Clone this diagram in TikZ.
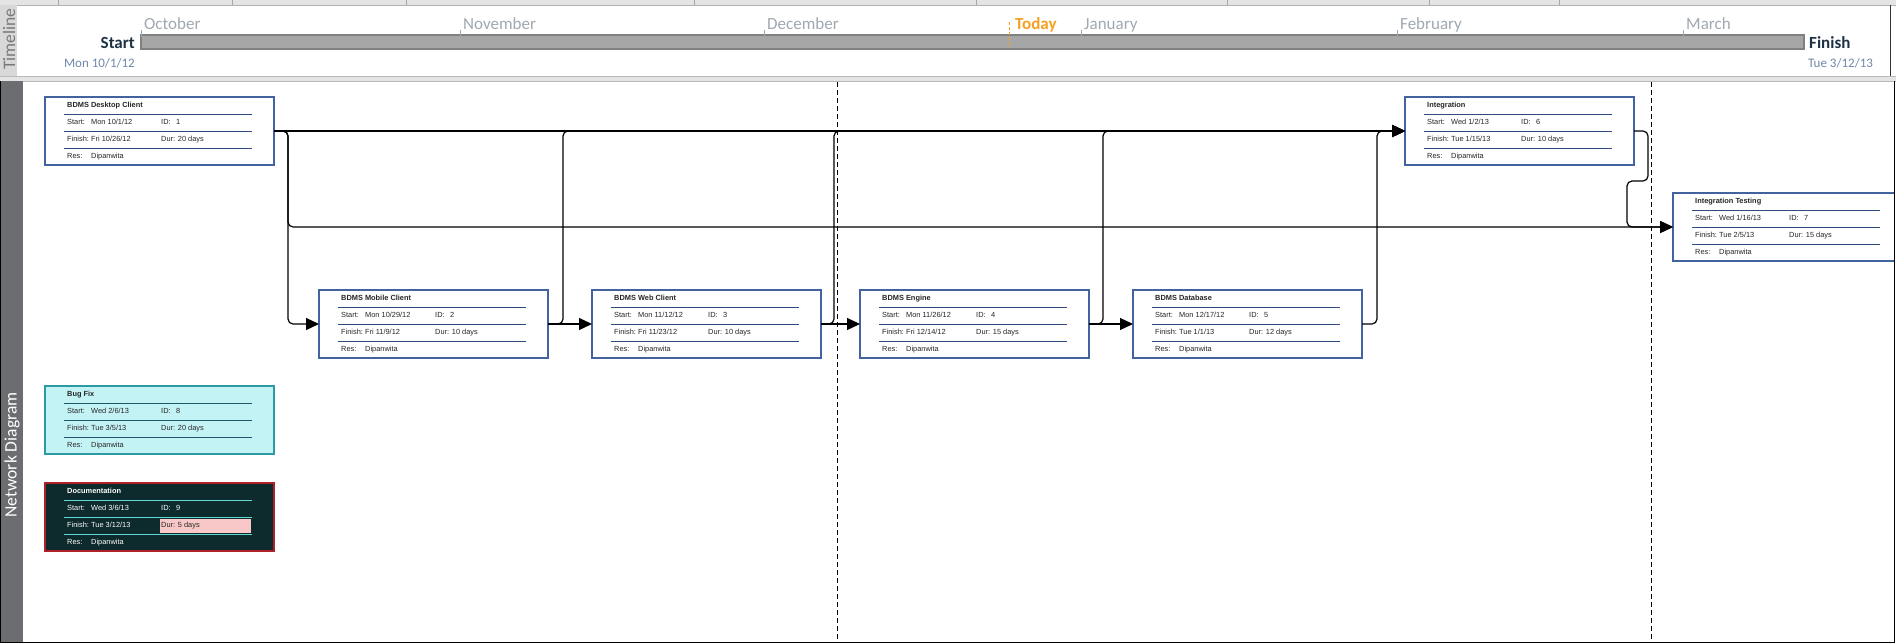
\documentclass[tikz,border=0pt]{standalone}
\usepackage{fontspec}
\setmainfont{Carlito}
\newfontfamily\cardfont{Liberation Sans}
\usetikzlibrary{arrows.meta}

\definecolor{cardblue}{HTML}{42639F}
\definecolor{ruleblue}{HTML}{2E4B7E}
\definecolor{cyanfill}{HTML}{C4F3F6}
\definecolor{cyanedge}{HTML}{2A9BA5}
\definecolor{cyanrule}{HTML}{1F5770}
\definecolor{darkfill}{HTML}{0D2A2C}
\definecolor{darkedge}{HTML}{B02028}
\definecolor{darkrule}{HTML}{5ED8D4}
\definecolor{durpink}{HTML}{F8C8C8}
\definecolor{monthgrey}{HTML}{A0A8B2}
\definecolor{slate}{HTML}{1E3246}
\definecolor{datelblue}{HTML}{6F88A8}
\definecolor{todayorange}{HTML}{F5A020}
\definecolor{bargrey}{HTML}{A6A6A6}
\definecolor{baredge}{HTML}{808080}
\definecolor{paneldark}{HTML}{6B6D71}
\definecolor{panellight}{HTML}{D8D8D8}
\definecolor{sepgrey}{HTML}{E4E4E4}

\tikzset{
  cardtxt/.style={font=\cardfont\fontsize{7.4}{8}\selectfont, inner sep=0pt, anchor=west,
    text height=5.3pt, text depth=1.6pt},
  cardbase/.style={line width=1.2pt, inner sep=0pt, outer sep=0pt,
    minimum width=229pt, minimum height=68pt},
  plaincard/.style={
    cardbox/.style={cardbase, draw=cardblue, fill=white},
    cardrule/.style={draw=ruleblue, line width=0.9pt},
    cardink/.style={text=black!85},
    carddur/.style={text=black!85}},
  cyancard/.style={
    cardbox/.style={cardbase, draw=cyanedge, fill=cyanfill},
    cardrule/.style={draw=cyanrule, line width=0.9pt},
    cardink/.style={text=black!85},
    carddur/.style={text=black!85}},
  darkcard/.style={
    cardbox/.style={cardbase, draw=darkedge, fill=darkfill},
    cardrule/.style={draw=darkrule, line width=0.9pt},
    cardink/.style={text=white},
    carddur/.style={text=black!85, fill=durpink}},
  link/.style={draw=black, line width=1.2pt, rounded corners=5pt,
    -{Triangle[length=13pt,width=12pt]}},
  monthlbl/.style={font=\fontsize{17}{20}\selectfont, text=monthgrey, inner sep=0pt, anchor=base west},
  monthtick/.style={draw=monthgrey, line width=0.8pt},
  phase/.style={dashed, dash pattern=on 5pt off 3pt, line width=0.9pt},
  sidelbl/.style={rotate=90, font=\fontsize{17.5}{20}\selectfont, inner sep=0pt}
}

% one task card: name, x, y (top left), title, start, id, finish, duration, look
\newcommand\taskcard[9]{%
  \begin{scope}[#9]
    \node[cardbox, anchor=north west] (#1) at (#2,#3) {};
    \begin{scope}[shift={(#2,#3)}]
      \draw[cardrule] (19,17) -- (207,17);
      \draw[cardrule] (19,34) -- (207,34);
      \draw[cardrule] (19,51) -- (207,51);
      \node[cardtxt, cardink] (#1-t) at (22,9) {\bfseries #4};
      \node[cardtxt, cardink] (#1-s) at (22,26) {\makebox[24pt][l]{Start:}#5};
      \node[cardtxt, cardink] (#1-i) at (116,26) {\makebox[15pt][l]{ID:}#6};
      \node[cardtxt, cardink] (#1-f) at (22,43) {\makebox[24pt][l]{Finish:}#7};
      \node[cardtxt, carddur, inner xsep=1.5pt, minimum height=14pt]
        (#1-d) at (114.5,43) {\makebox[88pt][l]{Dur: #8}};
      \node[cardtxt, cardink] (#1-r) at (22,60) {\makebox[24pt][l]{Res:}Dipanwita};
    \end{scope}
  \end{scope}}

\begin{document}
\begin{tikzpicture}[x=1pt, y=-1pt]
\useasboundingbox (0,0) rectangle (1896,643);
\fill[white] (0,0) rectangle (1896,643);

% header strip
\fill[sepgrey] (0,0) rectangle (1896,5);
\draw[gray!60, line width=0.8pt] (0,5) -- (1896,5);
\foreach \gx in {58,232,406,694,976,1227,1429,1559}
  \draw[gray!70, line width=0.8pt] (\gx,0) -- (\gx,5);

% timeline band
\fill[panellight] (0,5) rectangle (17,76);
\node[sidelbl, text=gray!95!black] (tlhead) at (9,39) {Timeline};
\draw[black!80, line width=1pt] (1890,5) -- (1890,76);

\fill[bargrey] (141,35) rectangle (1804,49);
\draw[baredge, line width=1.5pt] (141,35) rectangle (1804,49);

\foreach \mx/\mn in {141/October, 460/November, 764/December, 1081/January, 1397/February, 1683/March}{
  \draw[monthtick] (\mx,30) -- (\mx,37);
  \node[monthlbl] (m-\mn) at (\mx+3,29) {\mn};
}
\draw[todayorange, line width=0.9pt, dash pattern=on 3pt off 2pt] (1009,22) -- (1009,48);
\node[monthlbl, text=todayorange, font=\fontsize{17}{20}\selectfont\bfseries] (today) at (1015,29) {Today};

\node[font=\fontsize{17}{20}\selectfont\bfseries, text=slate, inner sep=0pt, anchor=base east] (tlstart) at (135,48) {Start};
\node[font=\fontsize{13}{16}\selectfont, text=datelblue, inner sep=0pt, anchor=base east] (tlstartd) at (135,67) {Mon 10/1/12};
\node[font=\fontsize{17}{20}\selectfont\bfseries, text=slate, inner sep=0pt, anchor=base west] (tlfinish) at (1809,48) {Finish};
\node[font=\fontsize{13}{16}\selectfont, text=datelblue, inner sep=0pt, anchor=base west] (tlfinishd) at (1808,67) {Tue 3/12/13};

% band between the two views
\fill[sepgrey] (0,76) rectangle (1896,81);
\draw[gray!55, line width=0.8pt] (0,76) -- (1896,76);
\draw[gray!55, line width=0.8pt] (0,81) -- (1896,81);

% network diagram view
\fill[paneldark] (0,81) rectangle (23,643);
\node[sidelbl, text=white] (ndhead) at (12,455) {Network Diagram};

\begin{scope}
\clip (23,81) rectangle (1894,642);
\draw[phase] (837,82) -- (837,642);
\draw[phase] (1651,82) -- (1651,642);

\taskcard{desk}{45}{97}{BDMS Desktop Client}{Mon 10/1/12}{1}{Fri 10/26/12}{20 days}{plaincard}
\taskcard{mob}{319}{290}{BDMS Mobile Client}{Mon 10/29/12}{2}{Fri 11/9/12}{10 days}{plaincard}
\taskcard{web}{592}{290}{BDMS Web Client}{Mon 11/12/12}{3}{Fri 11/23/12}{10 days}{plaincard}
\taskcard{eng}{860}{290}{BDMS Engine}{Mon 11/26/12}{4}{Fri 12/14/12}{15 days}{plaincard}
\taskcard{db}{1133}{290}{BDMS Database}{Mon 12/17/12}{5}{Tue 1/1/13}{12 days}{plaincard}
\taskcard{integ}{1405}{97}{Integration}{Wed 1/2/13}{6}{Tue 1/15/13}{10 days}{plaincard}
\taskcard{itest}{1673}{193}{Integration Testing}{Wed 1/16/13}{7}{Tue 2/5/13}{15 days}{plaincard}
\taskcard{bug}{45}{386}{Bug Fix}{Wed 2/6/13}{8}{Tue 3/5/13}{20 days}{cyancard}
\taskcard{doc}{45}{483}{Documentation}{Wed 3/6/13}{9}{Tue 3/12/13}{5 days}{darkcard}

% dependency links
\draw[link] (desk.east) -- (integ.west);
\draw[link] (desk.east) -- ++(14,0) |- (mob.west);
\draw[link] (desk.east) -- ++(14,0) |- (itest.west);
\draw[link] (mob.east) -- (web.west);
\draw[link] (mob.east) -- ++(15,0) |- (integ.west);
\draw[link] (web.east) -- (eng.west);
\draw[link] (web.east) -- ++(13,0) |- (integ.west);
\draw[link] (eng.east) -- (db.west);
\draw[link] (eng.east) -- ++(14,0) |- (integ.west);
\draw[link] (db.east) -- ++(15,0) |- (integ.west);
\draw[link] (integ.east) -- ++(14,0) -- ++(0,50) -- ++(-21,0) |- (itest.west);
\end{scope}

\draw[black, line width=1pt] (0.5,81) -- (0.5,642.5) -- (1894.5,642.5) -- (1894.5,81);
\end{tikzpicture}
\end{document}
